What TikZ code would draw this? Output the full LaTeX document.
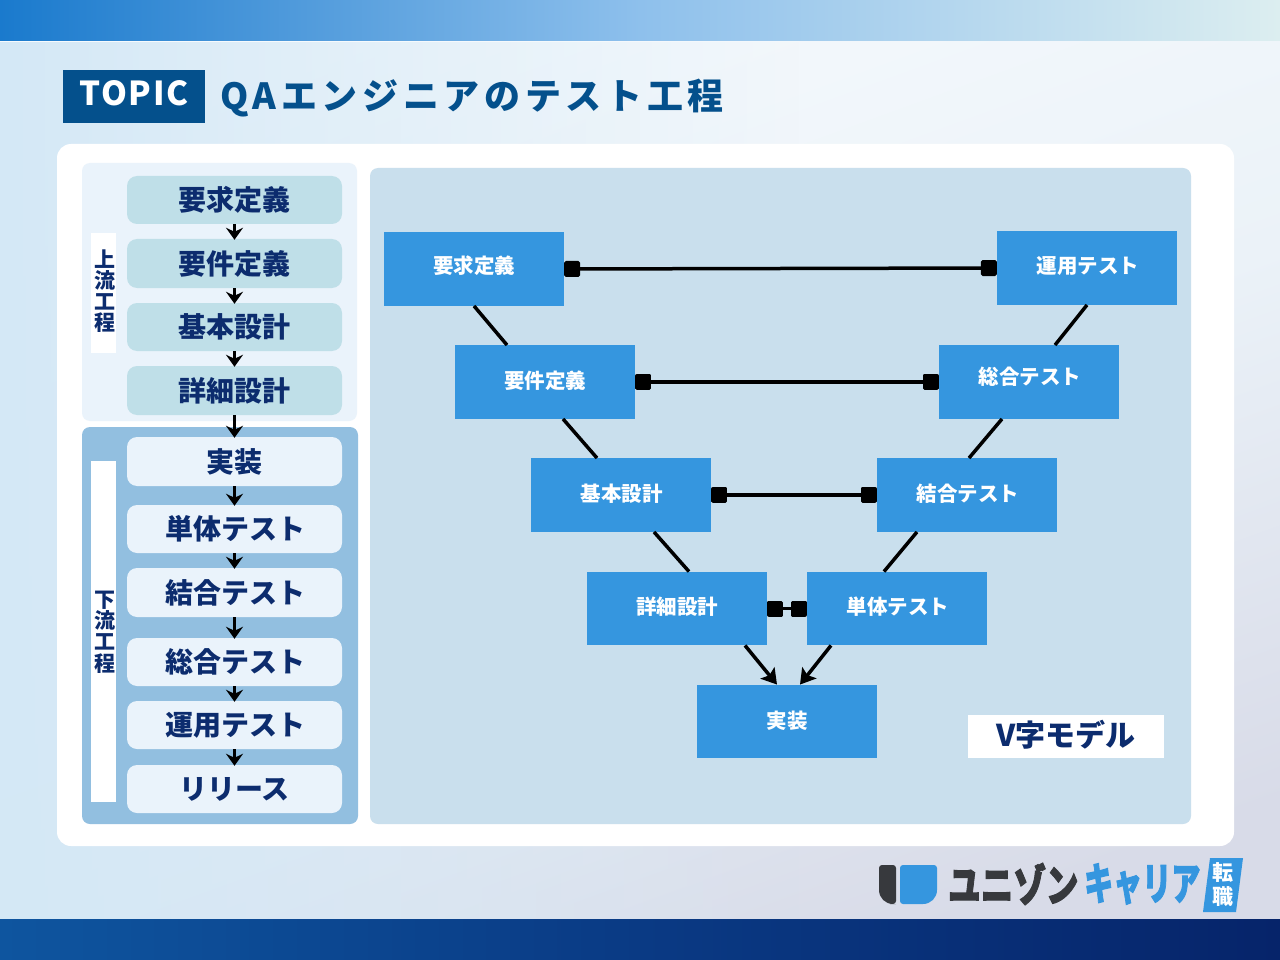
\documentclass[tikz,border=0pt]{standalone}
\usepackage{fontspec}
\usetikzlibrary{arrows.meta,calc,fadings}
\setmainfont{Noto Sans CJK JP}
\newfontfamily\jp{Noto Sans CJK JP}
\newfontfamily\jpsp{Noto Sans CJK JP}[LetterSpace=5]
\newfontfamily\jpti{Noto Sans CJK JP}[LetterSpace=13]
\newfontfamily\jpfat{Noto Sans CJK JP}[FakeBold=2.5]
\definecolor{navy}{HTML}{0C2C6E}
\definecolor{topic}{HTML}{04508C}
\definecolor{teal}{HTML}{BFDFE8}
\definecolor{pale}{HTML}{EAF3FB}
\definecolor{midblue}{HTML}{92BFE0}
\definecolor{vpanel}{HTML}{C9DFED}
\definecolor{vblue}{HTML}{3596DF}
\definecolor{logodark}{HTML}{37393D}
\definecolor{bga}{HTML}{F6FAFD}
\definecolor{bgb}{HTML}{EBF2F8}
\definecolor{bgc}{HTML}{D8DBE8}
\definecolor{bgl}{HTML}{D4E8F6}
\definecolor{topa}{HTML}{1A7ACD}
\definecolor{topb}{HTML}{8EC0EC}
\definecolor{topc}{HTML}{DCEEF0}
\definecolor{bota}{HTML}{0E559F}
\definecolor{botb}{HTML}{0A3A84}
\definecolor{botc}{HTML}{06246A}
\tikzset{
  x=1pt,y=-1pt,
  stepbase/.style={rounded corners=10pt,inner sep=0pt,minimum width=215pt,text=navy,font=\jp\bfseries\fontsize{28}{30}\selectfont},
  upbox/.style={stepbase,fill=teal},
  lowbox/.style={stepbase,fill=pale},
  vbox/.style={fill=vblue,inner sep=0pt,minimum width=180pt,minimum height=73.5pt,text=white,font=\jp\bfseries\fontsize{20.5}{22}\selectfont},
  flow/.style={line width=3.5pt,-{Stealth[length=12pt,width=17pt,inset=4pt]},black,shorten >=-1pt},
  vline/.style={line width=3.5pt,black},
  link/.style={line width=3.5pt,black,{Square[length=16pt,width=16pt,round]}-{Square[length=16pt,width=16pt,round]}},
  varrow/.style={line width=3.5pt,black,-{Stealth[length=15pt,width=18pt,inset=3pt]}},
  tag/.style={fill=white,inner sep=0pt,minimum width=25pt},
  tagtext/.style={text=navy,inner sep=0pt,align=center,font=\jp\bfseries\fontsize{21}{21.2}\selectfont},
  panel/.style={rounded corners=8pt},
  logotext/.style={anchor=west,inner sep=0pt,font=\jpfat\bfseries\fontsize{44}{46}\selectfont},
}
\newcommand\rz[2]{\raisebox{#1pt}{#2}}
\begin{document}
\begin{tikzpicture}
\useasboundingbox (0,0) rectangle (1280,960);
% background
\shade[top color=bga,bottom color=bgc,middle color=bgb,shading angle=20] (0,0) rectangle (1280,960);
\fill[bgl,path fading=east] (0,41) rectangle (800,919);
\shade[left color=topa,right color=topc,middle color=topb] (0,0) rectangle (1280,41);
\shade[left color=bota,right color=botc,middle color=botb] (0,919) rectangle (1280,960);
% title
\node[fill=topic,minimum width=142pt,minimum height=53pt,inner sep=0pt,text=white,font=\jpsp\bfseries\fontsize{33}{35}\selectfont] (topic) at (134,96.5) {\rz{7}{TOPIC}};
\node[anchor=west,inner sep=0pt,text=topic,font=\jpti\bfseries\fontsize{36}{38}\selectfont] (title) at (220,98) {QAエンジニアのテスト工程};
% white card
\fill[white,rounded corners=14pt] (57,144) rectangle (1234,846);
% left panels
\fill[pale,panel] (82,163) rectangle (357,421);
\fill[midblue,panel] (82,427) rectangle (358,824);
\fill[vpanel,panel] (370,168) rectangle (1191,824);
% side tags
\node[tag,minimum height=120pt] (uptag) at (103.5,293) {};
\node[tagtext] (uplabel) at (105,291) {上\\流\\工\\程};
\node[tag,minimum height=341pt] (lowtag) at (103.5,631.5) {};
\node[tagtext] (lowlabel) at (105,632) {下\\流\\工\\程};
% step boxes
\node[upbox,minimum height=48pt] (s1) at (234.5,200) {要求定義};
\node[upbox,minimum height=49pt] (s2) at (234.5,263.5) {\rz{2}{要件定義}};
\node[upbox,minimum height=48pt] (s3) at (234.5,327) {基本設計};
\node[upbox,minimum height=49pt] (s4) at (234.5,390.5) {\rz{2}{詳細設計}};
\node[lowbox,minimum height=49pt] (s5) at (234.5,461.5) {\rz{2}{実装}};
\node[lowbox,minimum height=48pt] (s6) at (234.5,529) {\hspace*{2pt}単体テスト};
\node[lowbox,minimum height=49pt] (s7) at (234.5,592.5) {\rz{2}{\hspace*{2pt}結合テスト}};
\node[lowbox,minimum height=48pt] (s8) at (234.5,662) {\hspace*{2pt}総合テスト};
\node[lowbox,minimum height=48pt] (s9) at (234.5,725) {\rz{2}{\hspace*{2pt}運用テスト}};
\node[lowbox,minimum height=48pt] (s10) at (234.5,789) {\rz{2}{リリース}};
\foreach \a/\b in {s1/s2,s2/s3,s3/s4,s4/s5,s5/s6,s6/s7,s7/s8,s8/s9,s9/s10}
  \draw[flow] (\a.south) -- (\b.north);
% V model
\node[vbox] (a1) at (474,269) {\rz{9}{要求定義}};
\node[vbox] (b1) at (1087,268) {\rz{5}{\hspace*{2pt}運用テスト}};
\node[vbox] (a2) at (545,382) {\rz{4}{要件定義}};
\node[vbox] (b2) at (1029,382) {\rz{13}{\hspace*{2pt}総合テスト}};
\node[vbox] (a3) at (621,495) {\rz{4}{\hspace*{1pt}基本設計}};
\node[vbox] (b3) at (967,495) {\rz{4}{\hspace*{2pt}結合テスト}};
\node[vbox] (a4) at (677,608.5) {\rz{6}{詳細設計}};
\node[vbox] (b4) at (897,608.5) {\rz{6}{\hspace*{2pt}単体テスト}};
\node[vbox] (impl) at (787,721.5) {\rz{4}{実装}};
\node[fill=white,minimum width=196pt,minimum height=43pt,inner sep=0pt,text=navy,font=\jp\bfseries\fontsize{30}{32}\selectfont] (vname) at (1066,736.5) {\rz{6}{V字モデル}};
% V connectors
\draw[vline] (a1.south) -- ([xshift=-38pt]a2.north);
\draw[vline] (b1.south) -- ([xshift=26pt]b2.north);
\draw[vline] ([xshift=18pt]a2.south) -- ([xshift=-24pt]a3.north);
\draw[vline] ([xshift=-27pt]b2.south) -- ([xshift=2pt]b3.north);
\draw[vline] ([xshift=33pt]a3.south) -- ([xshift=12pt]a4.north);
\draw[vline] ([xshift=-50pt]b3.south) -- ([xshift=-13pt]b4.north);
\draw[varrow] ([xshift=68pt]a4.south) -- ([xshift=-10pt]impl.north);
\draw[varrow] ([xshift=-66pt]b4.south) -- ([xshift=13pt]impl.north);
\draw[link] (a1.east) -- (b1.west);
\draw[link] (a2.east) -- (b2.west);
\draw[link] (a3.east) -- (b3.west);
\draw[link] (a4.east) -- (b4.west);
% logo
\fill[logodark,rounded corners=3pt] (879,865) -- (896,865) -- (896,904) -- (893,904) [rounded corners=14pt] -- (879,904) [rounded corners=3pt] -- cycle;
\fill[vblue,rounded corners=3pt] (900,865) -- (937,865) [rounded corners=14pt] -- (937,904) [rounded corners=3pt] -- (900,904) -- cycle;
\node[logotext,text=logodark] (logoa) at (948,884) {\scalebox{0.74}[1]{ユニゾン}};
\node[logotext,text=vblue] (logob) at (1084,884) {\scalebox{0.66}[1]{キャリア}};
\fill[vblue] (1210,858) -- (1243,858) -- (1236,912) -- (1203,912) -- cycle;
\node[inner sep=0pt,text=white,align=center,font=\jp\bfseries\fontsize{21}{24}\selectfont] (logoc) at (1223,885) {転\\職};
\end{tikzpicture}
\end{document}
